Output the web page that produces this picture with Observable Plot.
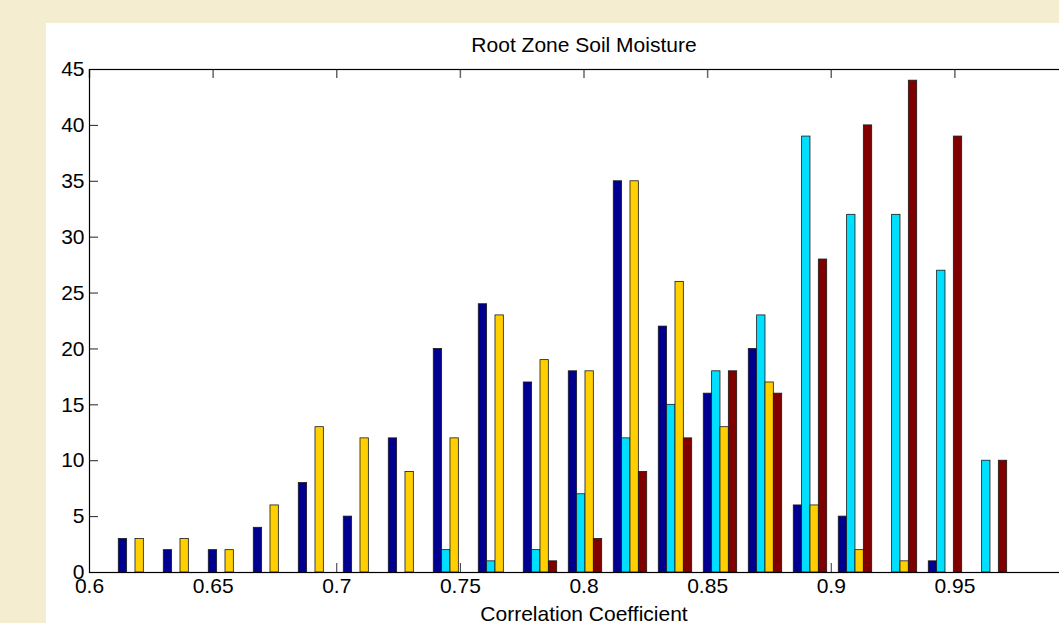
<!DOCTYPE html>
<html>
<head>
<meta charset="utf-8">
<script src="https://cdn.jsdelivr.net/npm/d3@7"></script>
<script src="https://cdn.jsdelivr.net/npm/@observablehq/plot@0.6"></script>
<style>
  html, body { margin: 0; padding: 0; }
  body {
    width: 1059px; height: 623px; overflow: hidden; position: relative;
    background: #f4edd0;
    font-family: "Liberation Sans", Arial, Helvetica, sans-serif;
  }
  #panel { position: absolute; left: 46px; top: 23px; right: 0; bottom: 0; background: #ffffff; }
  #chart { position: absolute; left: 0; top: 0; }
  .lbl { position: absolute; left: 90px; width: 988px; text-align: center; font-size: 21px; line-height: 21px; color: #000; white-space: nowrap; }
  #title { top: 34px; }
  #xlabel { top: 603px; }
</style>
</head>
<body>
<div id="panel"></div>
<div id="chart"></div>
<div id="title" class="lbl">Root Zone Soil Moisture</div>
<div id="xlabel" class="lbl">Correlation Coefficient</div>
<script>
// Bin centres (correlation coefficient) of the grouped histogram
const binCenters = [0.6186, 0.6368, 0.6550, 0.6732, 0.6914, 0.7096, 0.7278, 0.7460, 0.7642, 0.7824,
                    0.8006, 0.8188, 0.8370, 0.8552, 0.8734, 0.8916, 0.9098, 0.9280, 0.9462, 0.9644];
// Series (four grouped bars per bin)
const seriesNames = ["Series 1", "Series 2", "Series 3", "Series 4"];
const series1 = [3, 2, 2, 4, 8, 5, 12, 20, 24, 17, 18, 35, 22, 16, 20, 6, 5, 0, 1, 0];
const series2 = [0, 0, 0, 0, 0, 0, 0, 2, 1, 2, 7, 12, 15, 18, 23, 39, 32, 32, 27, 10];
const series3 = [3, 3, 2, 6, 13, 12, 9, 12, 23, 19, 18, 35, 26, 13, 17, 6, 2, 1, 0, 0];
const series4 = [0, 0, 0, 0, 0, 0, 0, 0, 0, 1, 3, 9, 12, 18, 16, 28, 40, 44, 39, 10];
const seriesColors = ["#000090", "#00dfff", "#ffcf00", "#800000"];
// Axis ticks (the axis runs to 1.0, just past the visible edge)
const xTicks = [0.6, 0.65, 0.7, 0.75, 0.8, 0.85, 0.9, 0.95];
const xTickLabels = ["0.6", "0.65", "0.7", "0.75", "0.8", "0.85", "0.9", "0.95"];
const yTicks = [0, 5, 10, 15, 20, 25, 30, 35, 40, 45];

const allSeries = [series1, series2, series3, series4];
const barWidth = 0.00338; // bar width in x units (grouped bars touch)
const table = [];
allSeries.forEach((vals, k) => {
  vals.forEach((v, i) => {
    if (v > 0) table.push({
      series: seriesNames[k],
      x1: binCenters[i] + (k - 2) * barWidth,
      x2: binCenters[i] + (k - 1) * barWidth,
      value: v
    });
  });
});

const W = 1100, H = 623, mL = 89, mR = 22, mT = 69, mB = 51;
const frameH = H - mT - mB, frameW = W - mL - mR, tickLen = 9;

const chart = Plot.plot({
  width: W, height: H,
  marginLeft: mL, marginRight: mR, marginTop: mT, marginBottom: mB,
  style: { background: "none", maxWidth: "none", overflow: "visible",
           fontFamily: "'Liberation Sans', Arial, Helvetica, sans-serif", fontSize: "21px", color: "#000" },
  x: { domain: [0.6, 1.0] },
  y: { domain: [0, 45] },
  color: { domain: seriesNames, range: seriesColors },
  marks: [
    Plot.ruleX(xTicks, { x: d => d, insetTop: frameH - tickLen, stroke: "#333", strokeWidth: 1 }),
    Plot.ruleX(xTicks, { x: d => d, insetBottom: frameH - tickLen, stroke: "#666", strokeWidth: 1.5 }),
    Plot.ruleY(yTicks, { y: d => d, insetRight: frameW - tickLen, stroke: "#222", strokeWidth: 1 }),
    Plot.rectY(table, { x1: "x1", x2: "x2", y1: 0, y2: "value", fill: "series", stroke: "#1a1a1a", strokeWidth: 0.8 }),
    Plot.frame({ stroke: "#000", strokeWidth: 1.2 }),
    Plot.axisX(xTicks, { tickSize: 0, tickPadding: 6, fontSize: 21, label: null,
                         tickFormat: d => xTickLabels[xTicks.indexOf(d)] }),
    Plot.axisY(yTicks, { tickSize: 0, tickPadding: 5, fontSize: 21, label: null })
  ]
});
document.getElementById("chart").appendChild(chart);
</script>
</body>
</html>
